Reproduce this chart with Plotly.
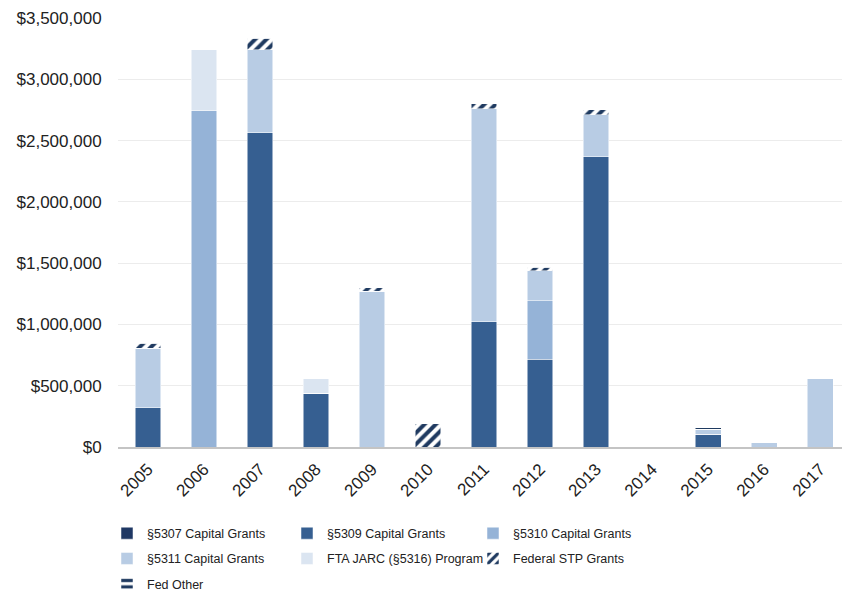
import plotly.graph_objects as go

years = ["2005", "2006", "2007", "2008", "2009", "2010", "2011",
         "2012", "2013", "2014", "2015", "2016", "2017"]

s5307 = [0, 0, 0, 0, 0, 0, 0, 0, 0, 0, 0, 0, 0]
s5309 = [320000, 0, 2565000, 440000, 0, 0, 1020000, 715000, 2370000, 0, 105000, 0, 0]
s5310 = [0, 2745000, 0, 0, 0, 0, 0, 480000, 0, 0, 0, 0, 0]
s5311 = [485000, 0, 675000, 0, 1270000, 0, 1740000, 245000, 342000, 0, 40000, 40000, 555000]
jarc = [0, 495000, 0, 115000, 0, 0, 0, 0, 0, 0, 0, 0, 0]
stp = [40000, 0, 95000, 0, 28000, 190000, 40000, 25000, 40000, 0, 0, 0, 0]
fed_other = [0, 0, 0, 0, 0, 0, 0, 0, 0, 0, 25000, 0, 0]

NAVY = "#1f3a60"

series = [
    ("§5307 Capital Grants", s5307, "#1f3864", None, "legend"),
    ("§5309 Capital Grants", s5309, "#365f91", None, "legend2"),
    ("§5310 Capital Grants", s5310, "#95b3d7", None, "legend3"),
    ("§5311 Capital Grants", s5311, "#b8cce4", None, "legend"),
    ("FTA JARC (§5316) Program", jarc, "#dbe5f1", None, "legend2"),
    ("Federal STP Grants", stp, "white", "/", "legend3"),
    ("Fed Other", fed_other, "white", "-", "legend"),
]

fig = go.Figure()
for name, vals, color, shape, leg in series:
    marker = dict(color=color, line=dict(color="white", width=0.5))
    if shape:
        marker["pattern"] = dict(shape=shape, fgcolor=NAVY, bgcolor="white",
                                 size=8, solidity=0.5, fillmode="replace")
    fig.add_trace(go.Bar(x=list(range(len(years))), y=vals, name=name,
                         marker=marker, width=0.46, legend=leg,
                         legendgroup=name, hoverinfo="skip"))

leg_font = dict(family="Liberation Sans, Arial, sans-serif",
                size=12.5, color="#222222")
leg_common = dict(orientation="v", xref="container", yref="container",
                  xanchor="left", yanchor="top", y=0.127, font=leg_font,
                  bgcolor="rgba(0,0,0,0)", traceorder="grouped",
                  tracegroupgap=6, itemclick=False)

fig.update_layout(
    width=842, height=594,
    margin=dict(l=118, r=0, t=18, b=147, autoexpand=False),
    paper_bgcolor="white", plot_bgcolor="white",
    barmode="stack",
    font=dict(family="Liberation Sans, Arial, sans-serif", size=17, color="#222222"),
    legend=dict(x=107 / 842, **leg_common),
    legend2=dict(x=287 / 842, **leg_common),
    legend3=dict(x=473 / 842, **leg_common),
    xaxis=dict(
        tickmode="array", tickvals=list(range(len(years))), ticktext=years,
        range=[-0.536, 12.39], tickangle=-45, showgrid=False,
        showline=True, linecolor="#c4c4c4", linewidth=1.5,
        ticks="outside", ticklen=4, tickcolor="rgba(0,0,0,0)",
        tickfont=dict(size=17), automargin=False,
    ),
    yaxis=dict(
        range=[0, 3500000], tickmode="array",
        tickvals=[0, 500000, 1000000, 1500000, 2000000, 2500000, 3000000, 3500000],
        tickformat="$,.0f", showgrid=True, gridcolor="#ececec", gridwidth=1,
        zeroline=False, showline=False,
        ticks="outside", ticklen=12, tickcolor="rgba(0,0,0,0)",
        tickfont=dict(size=17), automargin=False,
    ),
)

fig.write_html("out.html")
